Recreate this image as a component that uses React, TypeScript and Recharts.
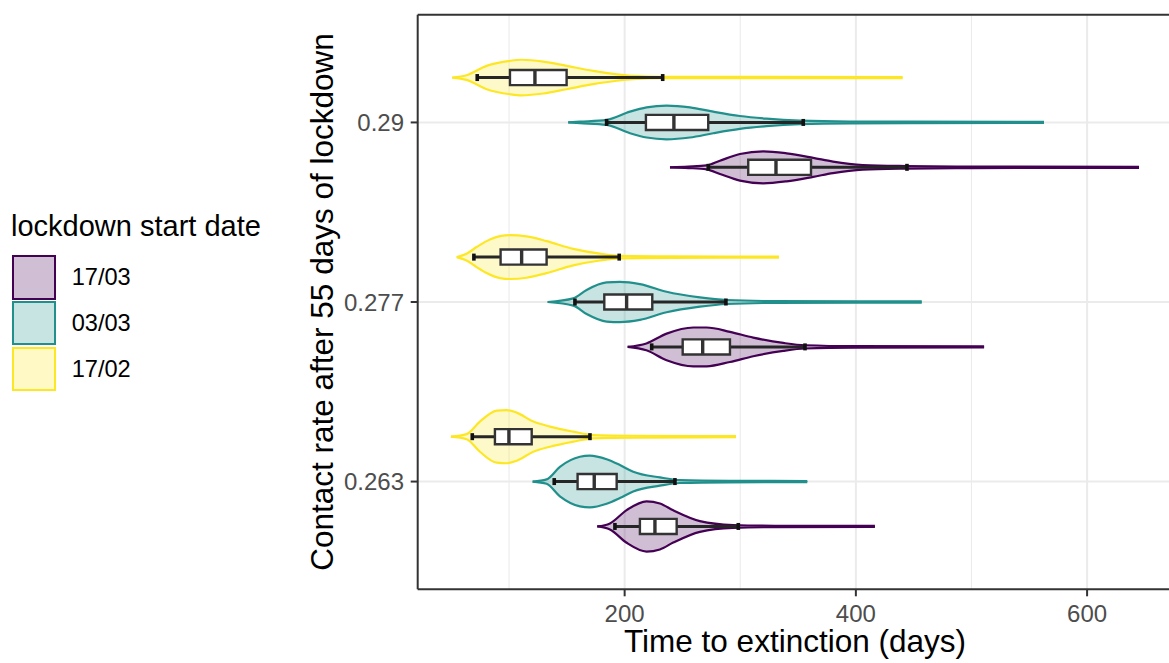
import React from 'react';
import { ComposedChart, Area, Line, Scatter, XAxis, YAxis, CartesianGrid, ReferenceLine } from 'recharts';

// contact rate categories, bottom to top (plotted at 1, 2, 3)
const CONTACT_RATES = ['0.263', '0.277', '0.29'];
const X_MAJOR = [200, 400, 600];
const X_MINOR = [100, 300, 500];

// violin outlines: [days, half width] for 0.263, 0.277, 0.29
const FEB17_VIOLINS = [
  [[49.7, 0], [63.3, 0.014], [74.8, 0.084], [89.3, 0.145], [97.9, 0.148], [106.6, 0.134], [121, 0.084], [135.4, 0.056], [155.6, 0.028], [172.8, 0.009], [210, 0.005], [296.3, 0.003]],
  [[54.7, 0], [63.3, 0.019], [72, 0.056], [80.6, 0.089], [92.1, 0.117], [100.8, 0.122], [115.2, 0.115], [132.5, 0.089], [155.6, 0.046], [178.6, 0.019], [195.9, 0.007], [240, 0.004], [333.5, 0.003]],
  [[50.9, 0], [63.3, 0.013], [80.6, 0.065], [100.8, 0.093], [110.9, 0.099], [129.6, 0.089], [149.8, 0.065], [172.8, 0.037], [193.1, 0.018], [207.4, 0.009], [233.4, 0.004], [440.5, 0.003]],
];
const MAR03_VIOLINS = [
  [[120.4, 0], [132.5, 0.012], [144, 0.082], [161.3, 0.138], [169.9, 0.144], [184.4, 0.124], [195.9, 0.092], [207.4, 0.055], [230.5, 0.023], [247.8, 0.008], [290, 0.004], [358, 0.003]],
  [[133.4, 0], [155.6, 0.02], [167.1, 0.067], [184.4, 0.109], [195.9, 0.112], [213.2, 0.1], [236.3, 0.057], [265.1, 0.026], [288.2, 0.011], [330, 0.005], [457, 0.003]],
  [[151.2, 0], [161.4, 0.004], [184.4, 0.014], [204.6, 0.06], [219, 0.084], [236.3, 0.094], [256.5, 0.084], [276.6, 0.06], [299.7, 0.036], [322.8, 0.021], [351.6, 0.01], [395, 0.005], [562.7, 0.003]],
];
const MAR17_VIOLINS = [
  [[176.3, 0], [187.3, 0.017], [201.7, 0.091], [219, 0.14], [230.5, 0.128], [242, 0.09], [265.1, 0.03], [293.9, 0.008], [330, 0.004], [416.5, 0.003]],
  [[202.6, 0], [218.8, 0.019], [236.3, 0.074], [259.4, 0.108], [270.9, 0.108], [291.1, 0.084], [311.2, 0.052], [337.2, 0.022], [356, 0.009], [400, 0.004], [510.9, 0.003]],
  [[239.2, 0], [255, 0.004], [270.9, 0.011], [282.4, 0.037], [299.7, 0.074], [319.9, 0.089], [340.1, 0.078], [363.1, 0.053], [380.2, 0.032], [406.1, 0.013], [443.9, 0.007], [500, 0.004], [644.9, 0.003]],
];

// boxplots: [lower whisker, q1, median, q3, upper whisker]
const FEB17_BOXES = [[68.2, 87.8, 99.9, 119.6, 170], [69.6, 92.7, 110.9, 132.5, 195.3], [72.5, 100.8, 122.4, 149.8, 232.9]];
const MAR03_BOXES = [[139.1, 159.3, 173.7, 193.1, 243.5], [157, 182.4, 201.7, 223.9, 287.6], [184.4, 218.4, 242.6, 272.3, 354.5]];
const MAR17_BOXES = [[191.6, 213.2, 226.2, 245, 298.3], [223.4, 250.2, 267.5, 291.1, 356], [272.3, 306.9, 330.9, 361.2, 444.2]];

const GROUPS = [
  { name: '17/03', color: '#440154', keyFill: '#d0bfd4', shift: -0.25, violins: MAR17_VIOLINS, boxes: MAR17_BOXES },
  { name: '03/03', color: '#21908c', keyFill: '#c7e3e2', shift: 0, violins: MAR03_VIOLINS, boxes: MAR03_BOXES },
  { name: '17/02', color: '#fde725', keyFill: '#fef9c5', shift: 0.25, violins: FEB17_VIOLINS, boxes: FEB17_BOXES },
];

const BOX_HALF = 0.042;
const FONT = '"Liberation Sans", Arial, Helvetica, sans-serif';
const DARK = '#333333';

const violinRows = (pts: number[][], pos: number) => pts.map(([x, w]) => ({ x, band: [pos - w, pos + w] }));
const boxFillRows = (b: number[], pos: number) => [
  { x: b[1], band: [pos - BOX_HALF, pos + BOX_HALF] },
  { x: b[3], band: [pos - BOX_HALF, pos + BOX_HALF] },
];
const boxOutlineRows = (b: number[], pos: number) => [
  { x: b[1], y: pos },
  { x: b[1], y: pos + BOX_HALF },
  { x: b[3], y: pos + BOX_HALF },
  { x: b[3], y: pos - BOX_HALF },
  { x: b[1], y: pos - BOX_HALF },
  { x: b[1], y: pos },
];
const medianRows = (b: number[], pos: number) => [
  { x: b[2], y: pos - BOX_HALF },
  { x: b[2], y: pos + BOX_HALF },
];
const whiskerRows = (b: number[], pos: number) => [
  { x: b[0], y: pos },
  { x: b[1], y: pos },
  { x: b[2], y: null },
  { x: b[3], y: pos },
  { x: b[4], y: pos },
];
const whiskerEnds = (b: number[], pos: number) => [
  { x: b[0], y: pos },
  { x: b[4], y: pos },
];

const EndMark = (props: any) => (
  <rect x={props.cx - 1.8} y={props.cy - 3.5} width={3.6} height={7} fill="#111" />
);

const Legend = () => (
  <div style={{ position: 'absolute', left: 0, top: 0 }}>
    <div style={{ position: 'absolute', left: 11, top: 212.2, fontSize: 29, lineHeight: '29px', whiteSpace: 'nowrap', color: '#000' }}>
      lockdown start date
    </div>
    {GROUPS.map((g, i) => (
      <React.Fragment key={g.name}>
        <div
          style={{
            position: 'absolute', left: 12, top: 255 + i * 45.8, width: 44, height: 44.5,
            boxSizing: 'border-box', border: `2.5px solid ${g.color}`, background: g.keyFill,
          }}
        />
        <div style={{ position: 'absolute', left: 71.7, top: 255 + i * 45.8, height: 44.5, lineHeight: '44.5px', fontSize: 23.6, color: '#000', whiteSpace: 'nowrap' }}>
          {g.name}
        </div>
      </React.Fragment>
    ))}
  </div>
);

export default function App() {
  return (
    <div style={{ position: 'absolute', left: 0, top: 0, width: 1169, height: 663, overflow: 'hidden', background: '#fff', fontFamily: FONT }}>
      <Legend />
      <div style={{ position: 'absolute', left: 0, top: 0 }}>
        <ComposedChart width={1180} height={663} margin={{ top: 14.7, right: 7.7, bottom: 0, left: 0 }}>
          <CartesianGrid horizontal={false} verticalValues={X_MINOR} stroke="#ebebeb" strokeWidth={1.1} />
          <CartesianGrid verticalValues={X_MAJOR} horizontalValues={[1, 2, 3]} stroke="#ebebeb" strokeWidth={2} />
          <XAxis
            type="number"
            dataKey="x"
            domain={[21, 673.7]}
            allowDataOverflow
            ticks={X_MAJOR}
            height={73.7}
            tickSize={7}
            tickMargin={8.2}
            tick={{ fontSize: 24, fill: '#4d4d4d' }}
            tickLine={{ stroke: DARK, strokeWidth: 2 }}
            axisLine={{ stroke: DARK, strokeWidth: 2 }}
            label={{ value: 'Time to extinction (days)', position: 'insideBottom', offset: 11.5, fontSize: 31.5, fill: '#000' }}
          />
          <YAxis
            type="number"
            domain={[0.4, 3.6]}
            allowDataOverflow
            ticks={[1, 2, 3]}
            tickFormatter={(v: number) => CONTACT_RATES[v - 1]}
            width={417.7}
            tickSize={7}
            tickMargin={6.7}
            tick={{ fontSize: 24, fill: '#4d4d4d' }}
            tickLine={{ stroke: DARK, strokeWidth: 2 }}
            axisLine={{ stroke: DARK, strokeWidth: 2 }}
            label={{
              value: 'Contact rate after 55 days of lockdown',
              angle: -90,
              position: 'insideLeft',
              offset: 321.8,
              fontSize: 31.5,
              fill: '#000',
              style: { textAnchor: 'middle' },
            }}
          />
          <ReferenceLine y={3.6} stroke={DARK} strokeWidth={2} ifOverflow="visible" />

          {GROUPS.flatMap((g) =>
            g.violins.map((pts, i) => (
              <Area
                key={`violin-${g.name}-${i}`}
                data={violinRows(pts, i + 1 + g.shift)}
                dataKey="band"
                type="monotone"
                stroke={g.color}
                strokeWidth={2.2}
                fill={g.color}
                fillOpacity={0.25}
                dot={false}
                activeDot={false}
                isAnimationActive={false}
              />
            ))
          )}

          {GROUPS.flatMap((g) =>
            g.boxes.map((b, i) => (
              <Area
                key={`boxfill-${g.name}-${i}`}
                data={boxFillRows(b, i + 1 + g.shift)}
                dataKey="band"
                type="linear"
                stroke="none"
                fill="#ffffff"
                fillOpacity={1}
                dot={false}
                activeDot={false}
                isAnimationActive={false}
              />
            ))
          )}

          {GROUPS.flatMap((g) =>
            g.boxes.map((b, i) => (
              <Line
                key={`whisker-${g.name}-${i}`}
                data={whiskerRows(b, i + 1 + g.shift)}
                dataKey="y"
                type="linear"
                stroke="#262626"
                strokeWidth={3}
                dot={false}
                activeDot={false}
                isAnimationActive={false}
              />
            ))
          )}

          {GROUPS.flatMap((g) =>
            g.boxes.map((b, i) => (
              <Line
                key={`box-${g.name}-${i}`}
                data={boxOutlineRows(b, i + 1 + g.shift)}
                dataKey="y"
                type="linear"
                stroke={DARK}
                strokeWidth={2.4}
                dot={false}
                activeDot={false}
                isAnimationActive={false}
              />
            ))
          )}

          {GROUPS.flatMap((g) =>
            g.boxes.map((b, i) => (
              <Line
                key={`median-${g.name}-${i}`}
                data={medianRows(b, i + 1 + g.shift)}
                dataKey="y"
                type="linear"
                stroke={DARK}
                strokeWidth={3.4}
                dot={false}
                activeDot={false}
                isAnimationActive={false}
              />
            ))
          )}

          {GROUPS.flatMap((g) =>
            g.boxes.map((b, i) => (
              <Scatter
                key={`ends-${g.name}-${i}`}
                data={whiskerEnds(b, i + 1 + g.shift)}
                dataKey="y"
                shape={EndMark}
                isAnimationActive={false}
              />
            ))
          )}
        </ComposedChart>
      </div>
    </div>
  );
}
